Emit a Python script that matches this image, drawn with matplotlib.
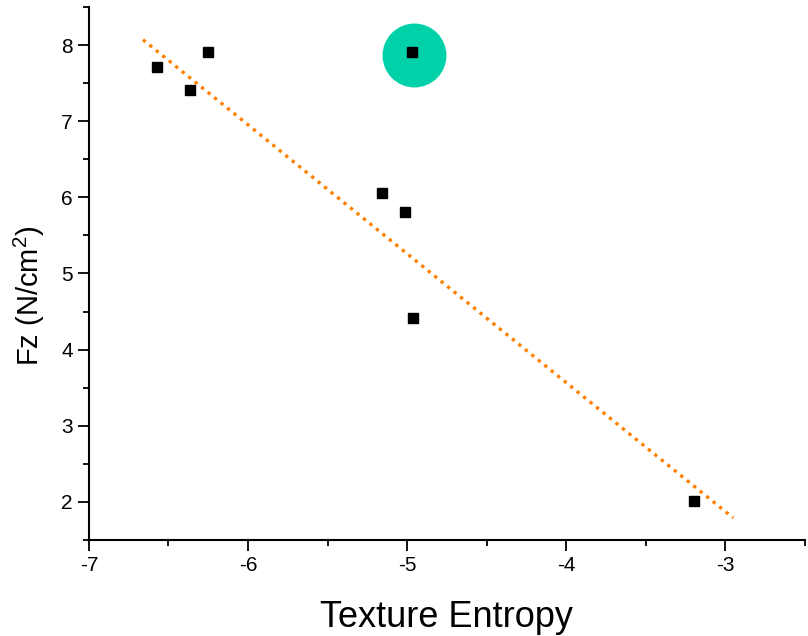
import numpy as np
import matplotlib
matplotlib.use("Agg")
import matplotlib.pyplot as plt
from matplotlib.ticker import MultipleLocator

# measured points
entropy = [-6.573, -6.365, -6.252, -5.158, -5.014, -4.964, -4.970, -3.197]
fz = [7.71, 7.41, 7.91, 6.06, 5.81, 4.42, 7.91, 2.01]

# highlighted point
hl_x = [-4.957]
hl_y = [7.87]

# fitted line endpoints
fit_x = [-6.66, -2.95]
fit_y = [8.07, 1.79]

plt.rcParams['font.family'] = ['Liberation Sans', 'DejaVu Sans']
plt.rcParams['axes.unicode_minus'] = False
plt.rcParams['mathtext.fontset'] = 'custom'
plt.rcParams['mathtext.rm'] = 'Liberation Sans'

fig = plt.figure(figsize=(8.08, 6.36), dpi=100)
ax = fig.add_axes([0.110, 0.151, 0.886, 0.838])

ax.plot(hl_x, hl_y, 'o', color='#00D1A8', markersize=46, markeredgewidth=0, zorder=2)
ax.plot(fit_x, fit_y, color='#FF7F00', linewidth=2.4, linestyle=(0, (1, 1.5)), zorder=2.5)
ax.plot(entropy, fz, 's', color='black', markersize=7, zorder=3)

ax.set_xlim(-7, -2.5)
ax.set_ylim(1.5, 8.5)
ax.xaxis.set_major_locator(MultipleLocator(1))
ax.xaxis.set_minor_locator(MultipleLocator(0.5))
ax.yaxis.set_major_locator(MultipleLocator(1))
ax.yaxis.set_minor_locator(MultipleLocator(0.5))

for s in ['top', 'right']:
    ax.spines[s].set_visible(False)
for s in ['left', 'bottom']:
    ax.spines[s].set_linewidth(1.5)

ax.tick_params(which='major', direction='out', length=8, width=1.3, labelsize=15)
ax.tick_params(which='minor', direction='out', length=4, width=1.3)

ax.set_xlabel('Texture Entropy', fontsize=26, labelpad=18)
ax.set_ylabel(r'Fz (N/cm$\mathregular{^2}$)', fontsize=21)
ax.yaxis.set_label_coords(-0.058, 0.458)

fig.savefig('out.png', dpi=100)
plt.close(fig)
